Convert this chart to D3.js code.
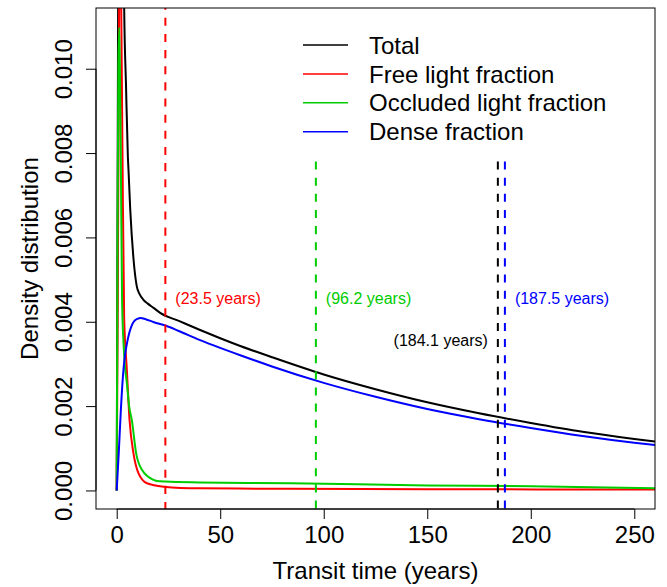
<!DOCTYPE html>
<html>
<head>
<meta charset="utf-8">
<script src="https://cdn.jsdelivr.net/npm/d3@7/dist/d3.min.js"></script>
<style>
  body { margin: 0; background: #fff; }
  svg { display: block; font-family: "Liberation Sans", Arial, Helvetica, sans-serif; }
</style>
</head>
<body>
<svg id="chart" width="667" height="587"></svg>
<script>
// Data
var seriesNames = ["Total", "Free light fraction", "Occluded light fraction", "Dense fraction"];

var totalX = [0, 0.3, 0.6, 0.9, 2, 3, 3.6, 4.5, 5.4, 5.7, 6.5, 8.1, 9.7, 11, 12.9, 15, 17.8, 21, 30, 40, 50, 60, 75, 100, 125, 150, 175, 200, 225, 250, 265];
var totalY = [0, 0.005, 0.010, 0.015, 0.020, 0.015, 0.0115, 0.0096, 0.0079, 0.0076, 0.0067, 0.0055, 0.00484, 0.00466, 0.00452, 0.00443, 0.00433, 0.00421, 0.00402, 0.00381, 0.00361, 0.00342, 0.00316, 0.00275, 0.00240, 0.00209, 0.00183, 0.00160, 0.00139, 0.00122, 0.00113];

var freeX = [0, 0.5, 1.0, 1.6, 2.2, 2.8, 3.6, 4.9, 6.2, 8.1, 10.5, 14.6, 22.6, 40, 84, 150, 265];
var freeY = [0, 0.0045, 0.0095, 0.016, 0.0114, 0.0079, 0.0041, 0.00286, 0.00167, 0.00088, 0.00041, 0.00017, 0.00009, 0.00005, 0.00004, 0.00003, 0.00002];

var occX = [0, 0.4, 0.8, 1.2, 1.6, 2.0, 2.6, 3.5, 5, 6, 7.3, 9.4, 12.2, 17.8, 19.4, 23.5, 40, 84, 150, 200, 265];
var occY = [0, 0.006, 0.0100, 0.01098, 0.0098, 0.0078, 0.0045, 0.0033, 0.0025, 0.0020, 0.00167, 0.00088, 0.00049, 0.00025, 0.000226, 0.00021, 0.00019, 0.00017, 0.00012, 0.00010, 0.00005];

var denseX = [0, 1, 2, 3, 4, 5, 6, 7, 8, 9, 10, 11.5, 14, 18, 23.5, 30, 40, 50, 60, 75, 100, 125, 150, 175, 200, 225, 250, 265];
var denseY = [0, 0.0009, 0.0019, 0.0027, 0.0032, 0.0035, 0.00372, 0.00388, 0.00398, 0.00404, 0.00407, 0.00409, 0.00406, 0.00399, 0.00391, 0.00378, 0.00357, 0.00338, 0.00320, 0.00294, 0.00255, 0.00222, 0.00193, 0.00169, 0.00148, 0.00129, 0.00113, 0.00105];

var meanTimes = [23.5, 96.2, 184.1, 187.5];
var meanLabels = ["(23.5 years)", "(96.2 years)", "(184.1 years)", "(187.5 years)"];
var meanTop = [0.0118, 0.0078, 0.0078, 0.0078];
var meanLabelY = [0.00455, 0.00455, 0.00355, 0.00455];

var xTicks = [0, 50, 100, 150, 200, 250];
var yTicks = [0, 0.002, 0.004, 0.006, 0.008, 0.010];

// Styles
var lineColors = ["#000000", "#ff0000", "#00cd00", "#0000ff"];
var meanColors = ["#ff0000", "#00cd00", "#000000", "#0000ff"];
var meanAnchor = ["start", "start", "end", "start"];
var meanDx = [10, 10, -10, 10];

var svg = d3.select("#chart");
var plotLeft = 96, plotRight = 655, plotTop = 8, plotBottom = 509;

var x = d3.scaleLinear().domain([-10, 260]).range([plotLeft, plotRight]);
var y = d3.scaleLinear().domain([-0.00044, 0.01144]).range([plotBottom, plotTop]);

svg.append("defs").append("clipPath")
    .attr("id", "plot-clip")
    .append("rect")
    .attr("x", plotLeft)
    .attr("y", plotTop)
    .attr("width", plotRight - plotLeft)
    .attr("height", plotBottom - plotTop);

var plot = svg.append("g").attr("clip-path", "url(#plot-clip)");

var line = d3.line()
    .x(function(d) { return x(d[0]); })
    .y(function(d) { return y(d[1]); })
    .curve(d3.curveMonotoneX);

var series = [
    d3.zip(totalX, totalY),
    d3.zip(freeX, freeY),
    d3.zip(occX, occY),
    d3.zip(denseX, denseY)
];

plot.selectAll("path.curve")
    .data(series)
    .enter()
    .append("path")
    .attr("class", "curve")
    .attr("d", line)
    .attr("fill", "none")
    .attr("stroke", function(d, i) { return lineColors[i]; })
    .attr("stroke-width", 2);

// Mean transit time markers
plot.selectAll("line.mean")
    .data(meanTimes)
    .enter()
    .append("line")
    .attr("class", "mean")
    .attr("x1", function(d) { return x(d); })
    .attr("x2", function(d) { return x(d); })
    .attr("y1", function(d, i) { return y(meanTop[i]); })
    .attr("y2", plotBottom)
    .attr("stroke", function(d, i) { return meanColors[i]; })
    .attr("stroke-width", 2)
    .attr("stroke-dasharray", "8.07,8.07")
    .attr("stroke-dashoffset", function(d, i) { return i === 0 ? 7.3 : 0; });

svg.selectAll("text.mean-label")
    .data(meanLabels)
    .enter()
    .append("text")
    .attr("class", "mean-label")
    .attr("x", function(d, i) { return x(meanTimes[i]) + meanDx[i]; })
    .attr("y", function(d, i) { return y(meanLabelY[i]); })
    .attr("dy", "0.35em")
    .attr("text-anchor", function(d, i) { return meanAnchor[i]; })
    .attr("fill", function(d, i) { return meanColors[i]; })
    .style("font-size", "16px")
    .text(function(d) { return d; });

// Box
svg.append("rect")
    .attr("x", plotLeft)
    .attr("y", plotTop)
    .attr("width", plotRight - plotLeft)
    .attr("height", plotBottom - plotTop)
    .attr("fill", "none")
    .attr("stroke", "#000")
    .attr("stroke-width", 1);

// Axes
var xAxis = d3.axisBottom(x)
    .tickValues(xTicks)
    .tickSize(10)
    .tickPadding(7)
    .tickFormat(d3.format("d"));

var gx = svg.append("g")
    .attr("transform", "translate(0," + plotBottom + ")")
    .call(xAxis);
gx.select(".domain").attr("d", "M" + x(xTicks[0]) + ",0H" + x(xTicks[xTicks.length - 1]));
gx.selectAll("text").style("font-size", "24px").attr("fill", "#000");

var yAxis = d3.axisLeft(y)
    .tickValues(yTicks)
    .tickSize(10)
    .tickFormat(d3.format(".3f"));

var gy = svg.append("g")
    .attr("transform", "translate(" + plotLeft + ",0)")
    .call(yAxis);
gy.select(".domain").attr("d", "M0," + y(yTicks[0]) + "V" + y(yTicks[yTicks.length - 1]));
gy.selectAll(".tick text")
    .attr("x", null)
    .attr("dy", null)
    .attr("text-anchor", "middle")
    .attr("transform", "translate(-24,0) rotate(-90)")
    .style("font-size", "24px")
    .attr("fill", "#000");

svg.append("text")
    .attr("x", (plotLeft + plotRight) / 2)
    .attr("y", 579)
    .attr("text-anchor", "middle")
    .style("font-size", "24px")
    .text("Transit time (years)");

svg.append("text")
    .attr("transform", "translate(38," + ((plotTop + plotBottom) / 2) + ") rotate(-90)")
    .attr("text-anchor", "middle")
    .style("font-size", "24px")
    .text("Density distribution");

// Legend
var legend = svg.append("g").attr("class", "legend");
var legendRows = legend.selectAll("g")
    .data(seriesNames)
    .enter()
    .append("g")
    .attr("transform", function(d, i) { return "translate(0," + (45 + i * 28.9) + ")"; });

legendRows.append("line")
    .attr("x1", 303)
    .attr("x2", 348)
    .attr("stroke", function(d, i) { return lineColors[i]; })
    .attr("stroke-width", 1.5);

legendRows.append("text")
    .attr("x", 369)
    .attr("dy", "0.36em")
    .style("font-size", "24px")
    .text(function(d) { return d; });
</script>
</body>
</html>
